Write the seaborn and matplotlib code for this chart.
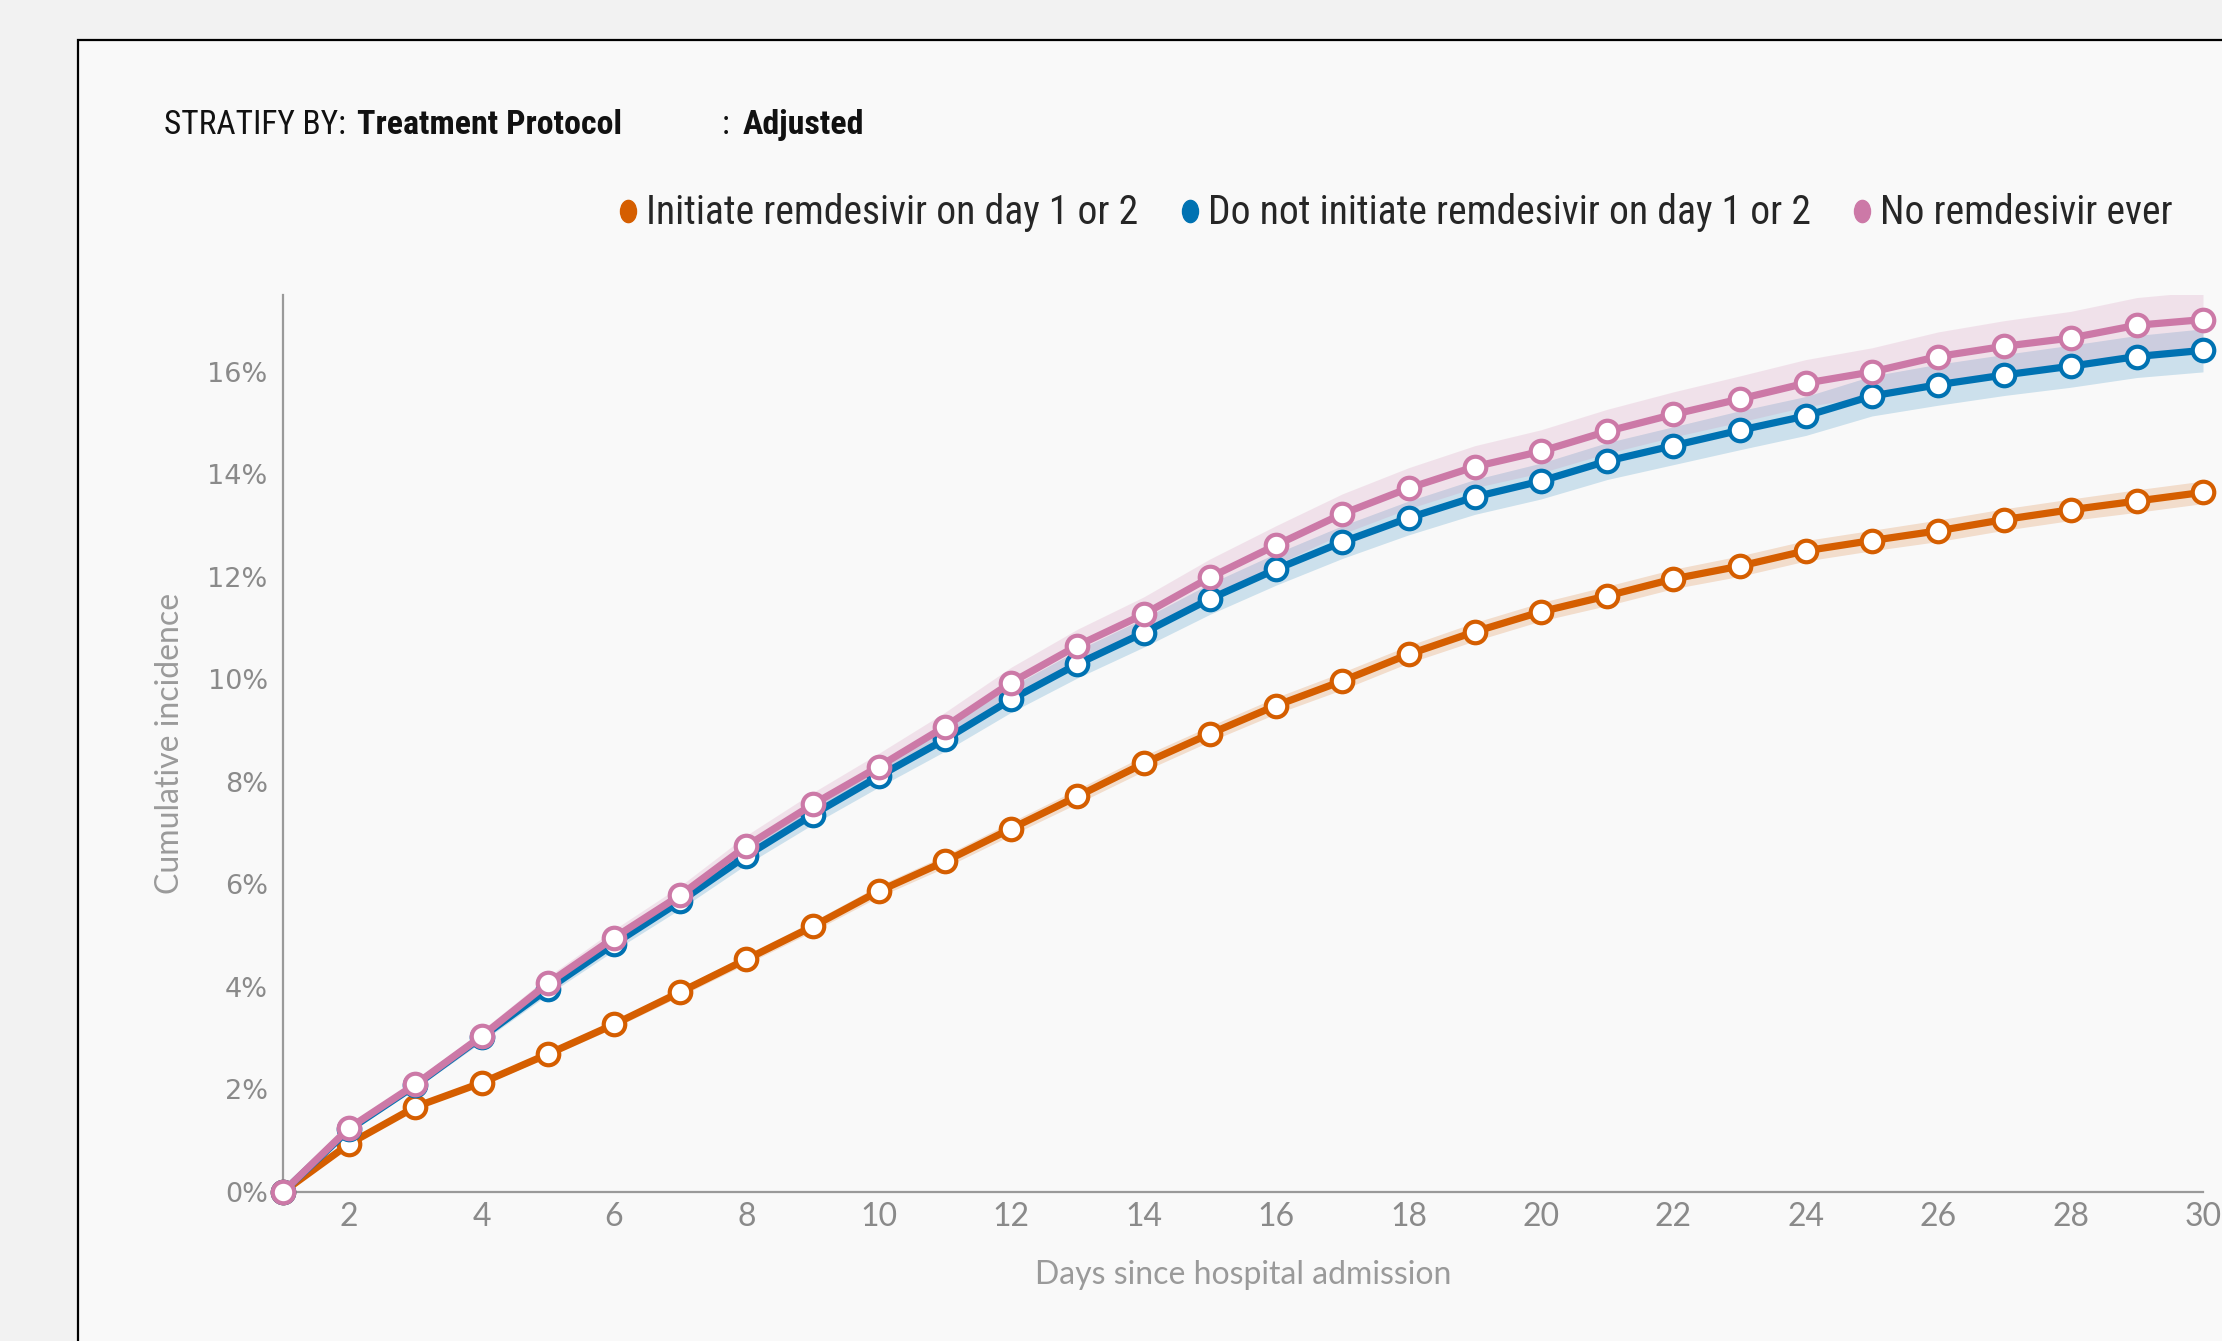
import pandas as pd
import numpy as np
import matplotlib.pyplot as plt
import seaborn as sns
from matplotlib.lines import Line2D
from matplotlib.patches import Rectangle
from matplotlib.path import Path
from matplotlib.transforms import Affine2D
from matplotlib import font_manager

# Data (cumulative incidence in %)
days = list(range(1, 31))
groups = ['Initiate remdesivir on day 1 or 2',
          'Do not initiate remdesivir on day 1 or 2',
          'No remdesivir ever']
colors = ['#d55e00', '#0072b2', '#cc79a7']

initiate = [0, 0.94, 1.66, 2.13, 2.69, 3.27, 3.90, 4.54, 5.18, 5.87,
            6.45, 7.09, 7.72, 8.36, 8.94, 9.49, 9.97, 10.49, 10.93, 11.32,
            11.63, 11.96, 12.21, 12.51, 12.71, 12.90, 13.12, 13.31, 13.48, 13.65]
not_initiate = [0, 1.22, 2.08, 3.02, 3.96, 4.84, 5.67, 6.56, 7.36, 8.11,
                8.83, 9.61, 10.30, 10.91, 11.57, 12.15, 12.68, 13.15, 13.56, 13.87,
                14.26, 14.56, 14.86, 15.14, 15.53, 15.75, 15.94, 16.11, 16.30, 16.42]
never = [0, 1.25, 2.10, 3.04, 4.07, 4.96, 5.79, 6.75, 7.56, 8.30,
         9.08, 9.94, 10.66, 11.27, 11.99, 12.62, 13.23, 13.73, 14.15, 14.45,
         14.84, 15.17, 15.47, 15.78, 16.00, 16.30, 16.50, 16.66, 16.91, 17.02]

# Half-width of the confidence band (%)
initiate_hw = [0, .03, .04, .05, .06, .07, .08, .09, .10, .11,
               .12, .13, .14, .15, .15, .16, .17, .17, .18, .18,
               .19, .19, .20, .20, .20, .21, .21, .21, .22, .22]
not_initiate_hw = [0, .05, .07, .09, .11, .13, .15, .17, .19, .21,
                   .23, .25, .27, .28, .30, .31, .32, .33, .34, .35,
                   .36, .37, .38, .38, .39, .40, .40, .41, .41, .42]
never_hw = [0, .06, .08, .11, .13, .16, .18, .21, .23, .26,
            .28, .30, .32, .34, .36, .38, .39, .40, .41, .42,
            .43, .44, .45, .46, .47, .48, .50, .52, .54, .55]

series = [initiate, not_initiate, never]
halfwidths = [initiate_hw, not_initiate_hw, never_hw]

df = pd.DataFrame({
    'day': days * 3,
    'incidence': initiate + not_initiate + never,
    'group': [g for g in groups for _ in days],
})

sns.set_style('white')
plt.rcParams['font.family'] = ['Lato', 'DejaVu Sans']

# pick a narrow family if one is around
installed = {f.name for f in font_manager.fontManager.ttflist}
narrow = [f for f in ['Liberation Sans Narrow', 'DejaVu Sans Condensed', 'Roboto Condensed',
                      'Roboto'] if f in installed] + ['DejaVu Sans']

W, H = 2222, 1341
fig = plt.figure(figsize=(W / 100, H / 100), dpi=100, facecolor='#f2f2f2')
fig.patches.append(Rectangle((78 / W, -0.2), 1.2, 1.2 - 40 / H, transform=fig.transFigure,
                             facecolor='#f9f9f9', edgecolor='black', lw=1.6, zorder=-5))

ax = fig.add_axes([283 / W, 1 - 1192 / H, 1920 / W, 897 / H])
ax.set_facecolor('#f9f9f9')

# Confidence bands
for vals, hw, c in zip(series, halfwidths, colors):
    lo = np.array(vals) - np.array(hw)
    hi = np.array(vals) + np.array(hw)
    ax.fill_between(days, lo, hi, color=c, alpha=0.18, lw=0, zorder=1)

sns.lineplot(data=df, x='day', y='incidence', hue='group', hue_order=groups,
             palette=colors, marker='o', markersize=15.5, linewidth=5.2,
             errorbar=None, legend=False, ax=ax)
for line in ax.lines:
    line.set_markeredgecolor(line.get_color())
    line.set_markerfacecolor('white')
    line.set_markeredgewidth(3)
    line.set_clip_on(False)
    line.set_zorder(3)

ax.set_xlim(1, 30)
ax.set_ylim(0, 17.5)
ax.set_xticks(range(2, 31, 2))
ax.set_yticks(range(0, 17, 2))
ax.set_yticklabels([f'{v}%' for v in range(0, 17, 2)])

for s in ['top', 'right']:
    ax.spines[s].set_visible(False)
for s in ['left', 'bottom']:
    ax.spines[s].set_color('#9a9a9a')
    ax.spines[s].set_linewidth(1.6)

ax.tick_params(axis='both', direction='out', length=5, width=1.2, color='#9a9a9a',
               labelcolor='#8a8a8a')
ax.tick_params(axis='x', labelsize=23, pad=2)
ax.tick_params(axis='y', labelsize=19.5, pad=6)
for lab in ax.get_yticklabels():
    lab.set_family('DejaVu Sans')

ax.set_xlabel('Days since hospital admission', fontsize=23, color='#9a9a9a', labelpad=20)
ax.set_ylabel('Cumulative incidence', fontsize=23, color='#9a9a9a', labelpad=16)

# Header
hy = 1 - 125 / H
fig.text(164 / W, hy, 'STRATIFY BY:', fontsize=24, family=narrow, color='#111111', va='center')
fig.text(357 / W, hy, 'Treatment Protocol', fontsize=24.5, family=narrow, weight='bold',
         color='#111111', va='center')
fig.text(722 / W, hy, ':', fontsize=24, family=narrow, color='#111111', va='center')
fig.text(743 / W, hy, 'Adjusted', fontsize=24.5, family=narrow, weight='bold',
         color='#111111', va='center')

# Legend with oval dots
oval = Path.unit_circle().transformed(Affine2D().scale(0.72, 1.0))
handles = [Line2D([], [], linestyle='', marker=oval, markersize=16, color=c) for c in colors]
fig.legend(handles, groups, loc='center right', bbox_to_anchor=(2208 / W, 1 - 213 / H),
           ncol=3, frameon=False, prop={'family': narrow, 'size': 28.5},
           handletextpad=0.1, columnspacing=0.95, handlelength=0.7)

fig.savefig('out.png', dpi=100, facecolor=fig.get_facecolor())
